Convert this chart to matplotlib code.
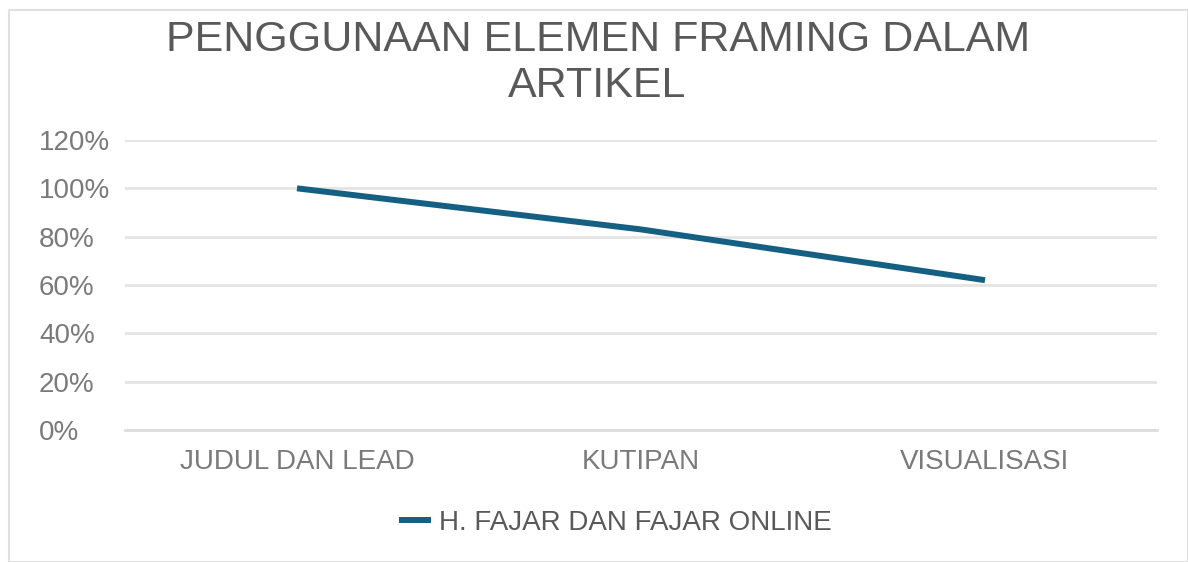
import matplotlib
matplotlib.use("Agg")
import matplotlib.pyplot as plt
from matplotlib.patches import Rectangle
from matplotlib.ticker import PercentFormatter

categories = ["JUDUL DAN LEAD", "KUTIPAN", "VISUALISASI"]
values = [1.00, 0.83, 0.62]
series_name = "H. FAJAR DAN FAJAR ONLINE"
title = "PENGGUNAAN ELEMEN FRAMING DALAM\nARTIKEL"
yticks = [0, 0.2, 0.4, 0.6, 0.8, 1.0, 1.2]

plt.rcParams["font.family"] = ["Liberation Sans", "DejaVu Sans"]
text_color = "#595959"
line_color = "#156082"

fig = plt.figure(figsize=(11.88, 5.62), dpi=100)
ax = fig.add_axes([125 / 1188, 1 - 430 / 562, 1032 / 1188, 290 / 562])

x = list(range(len(categories)))
ax.plot(x, values, color=line_color, linewidth=4.3, solid_capstyle="butt",
        label=series_name)

ax.set_xlim(-0.5, len(categories) - 0.5)
ax.set_ylim(0, 1.2)
ax.set_yticks(yticks)
ax.yaxis.set_major_formatter(PercentFormatter(1.0, decimals=0))
ax.set_xticks(x)
ax.set_xticklabels(categories)

ax.grid(axis="y", color="#e4e4e4", linewidth=2)
ax.set_axisbelow(True)
for side in ("top", "right", "left"):
    ax.spines[side].set_visible(False)
ax.spines["bottom"].set_color("#dcdcdc")
ax.spines["bottom"].set_linewidth(2)

ax.tick_params(axis="both", length=0, labelsize=20, labelcolor="#7a7a7a")
ax.tick_params(axis="y", pad=62)
ax.tick_params(axis="x", pad=14)
for lab in ax.get_yticklabels():
    lab.set_horizontalalignment("left")

fig.text(0.503, 0.888, title, ha="center", va="center", fontsize=31,
         color=text_color, linespacing=1.2)

fig.legend(loc="center", bbox_to_anchor=(0.518, 0.069), frameon=False,
           fontsize=20, labelcolor=text_color, handlelength=1.15,
           handletextpad=0.3)

fig.patches.append(Rectangle((9 / 1188, 0), 1 - 9 / 1188, 1 - 10 / 562,
                             transform=fig.transFigure, fill=False,
                             edgecolor="#e0e0e0", linewidth=1.5))

fig.savefig("out.png", dpi=100)
plt.close(fig)
